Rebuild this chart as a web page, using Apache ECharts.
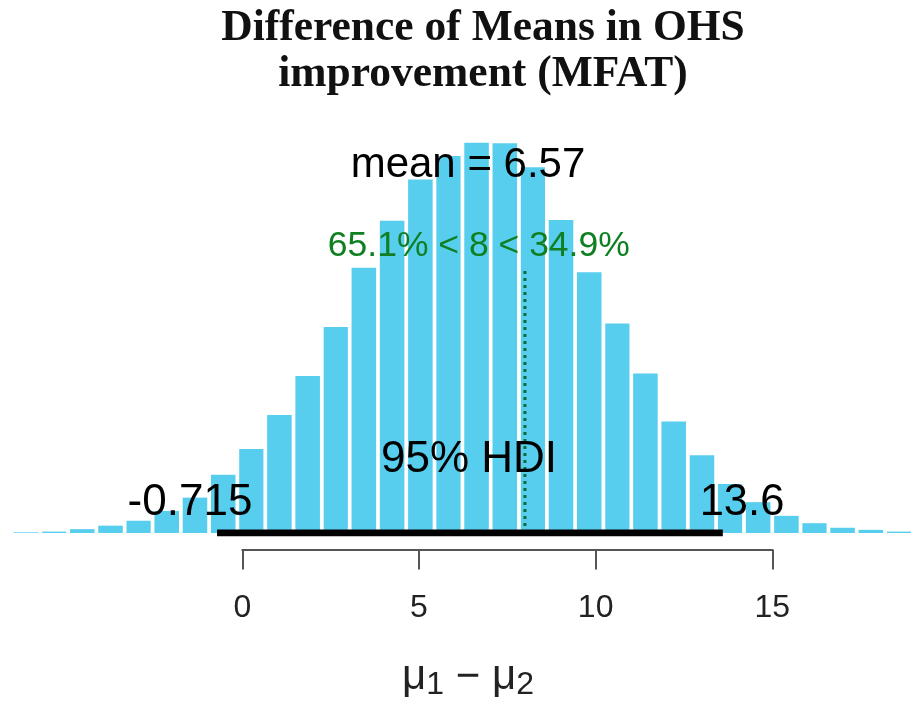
<!DOCTYPE html>
<html><head><meta charset="utf-8">
<script src="https://cdn.jsdelivr.net/npm/echarts@6/dist/echarts.min.js"></script>
<style>html,body{margin:0;padding:0;background:#fff}#c{width:912px;height:705px}</style>
</head><body><div id="c"></div>
<script>
// ---- data ----
const binEdges = [-6.52,-5.72,-4.93,-4.13,-3.33,-2.54,-1.74,-0.94,-0.14,0.65,1.45,2.25,3.04,3.84,4.64,5.44,6.23,7.03,7.83,8.62,9.42,10.22,11.01,11.81,12.61,13.41,14.20,15.00,15.80,16.59,17.39,18.19,18.98];
const density = [0.0002,0.0004,0.0011,0.0021,0.0035,0.0063,0.0101,0.0166,0.0240,0.0337,0.0448,0.0588,0.0757,0.0891,0.1009,0.1076,0.1114,0.1112,0.1044,0.0893,0.0744,0.0598,0.0455,0.0318,0.0222,0.0140,0.0088,0.0049,0.0028,0.0015,0.0009,0.0004];
const hdiLimits = [-0.715, 13.6];
const meanValue = 6.57;
const compValue = 8;
const compLineTop = 0.075;
const pctBelow = 65.1, pctAbove = 34.9;
const tickValues = [0, 5, 10, 15];
const titleLines = ['Difference of Means in OHS', 'improvement (MFAT)'];

const barColor = '#58CEEE';
const green = '#0f7f22';

const histData = density.map((d, i) => [binEdges[i], binEdges[i + 1], d]);

const chart = echarts.init(document.getElementById('c'), null, {renderer: 'canvas'});
const sans = 'Liberation Sans, Arial, sans-serif';
const serif = 'Liberation Serif, Times New Roman, serif';

const option = {
  animation: false,
  backgroundColor: '#ffffff',
  grid: [
    {left: 2.06, width: 908, top: 112.5, height: 420.5},
    {left: 242.3, width: 530, top: 548.5, height: 1}
  ],
  xAxis: [
    {gridIndex: 0, type: 'value', min: -6.8, max: 18.9, show: false},
    {gridIndex: 1, type: 'value', min: tickValues[0], max: tickValues[tickValues.length - 1], interval: 5,
     axisLine: {show: true, lineStyle: {color: '#555', width: 2}},
     axisTick: {show: true, length: 20, lineStyle: {color: '#555', width: 2}},
     axisLabel: {show: true, margin: 43, fontSize: 32, lineHeight: 32, fontFamily: sans, color: '#222'},
     splitLine: {show: false}}
  ],
  yAxis: [
    {gridIndex: 0, type: 'value', min: 0, max: 0.12, show: false},
    {gridIndex: 1, type: 'value', min: 0, max: 1, show: false}
  ],
  series: [
    {
      type: 'custom', xAxisIndex: 0, yAxisIndex: 0, data: histData,
      renderItem: function (params, api) {
        const p0 = api.coord([api.value(0), 0]);
        const p1 = api.coord([api.value(1), api.value(2)]);
        const gap = 1.85;
        return {
          type: 'rect',
          shape: {x: p0[0] + gap, y: p1[1], width: p1[0] - p0[0] - 2 * gap, height: p0[1] - p1[1]},
          style: {fill: barColor}
        };
      }
    },
    {
      type: 'line', xAxisIndex: 0, yAxisIndex: 0, symbol: 'none', z: 5,
      data: [[compValue, 0], [compValue, compLineTop]],
      lineStyle: {color: '#0a6a3a', width: 3, type: [3, 4], cap: 'butt'}
    },
    {
      type: 'line', xAxisIndex: 0, yAxisIndex: 0, symbol: 'none', z: 6,
      data: [[hdiLimits[0], 0], [hdiLimits[1], 0]],
      lineStyle: {color: '#000', width: 7, cap: 'butt'}
    }
  ],
  graphic: [
    {type: 'text', x: 483, y: 29.1, style: {text: titleLines[0], font: 'bold 43.5px ' + serif, fill: '#111', align: 'center', verticalAlign: 'middle'}},
    {type: 'text', x: 483, y: 75.1, style: {text: titleLines[1], font: 'bold 43.5px ' + serif, fill: '#111', align: 'center', verticalAlign: 'middle'}},
    {type: 'text', x: 468, y: 165.4, z: 100, style: {text: 'mean = ' + meanValue, font: '42px ' + sans, fill: '#000', align: 'center', verticalAlign: 'middle'}},
    {type: 'text', x: 478.8, y: 246.5, z: 100, style: {text: pctBelow + '% < ' + compValue + ' < ' + pctAbove + '%', font: '35.5px ' + sans, fill: green, align: 'center', verticalAlign: 'middle'}},
    {type: 'text', x: 469, y: 460.1, z: 100, style: {text: '95% HDI', font: '44px ' + sans, fill: '#000', align: 'center', verticalAlign: 'middle'}},
    {type: 'text', x: 190, y: 503, z: 100, style: {text: String(hdiLimits[0]), font: '44px ' + sans, fill: '#000', align: 'center', verticalAlign: 'middle'}},
    {type: 'text', x: 742, y: 503.4, z: 100, style: {text: String(hdiLimits[1]), font: '43.5px ' + sans, fill: '#000', align: 'center', verticalAlign: 'middle'}},
    {type: 'text', x: 468, y: 677, z: 100, style: {
      text: '{m|\u03bc}{s|1}{m| \u2212 \u03bc}{s|2}', align: 'center', verticalAlign: 'middle',
      rich: {
        m: {fontSize: 42, fontFamily: sans, fill: '#222', lineHeight: 48, verticalAlign: 'middle'},
        s: {fontSize: 32, fontFamily: sans, fill: '#222', lineHeight: 48, verticalAlign: 'bottom'}
      }
    }}
  ]
};
chart.setOption(option);
</script>
</body></html>
